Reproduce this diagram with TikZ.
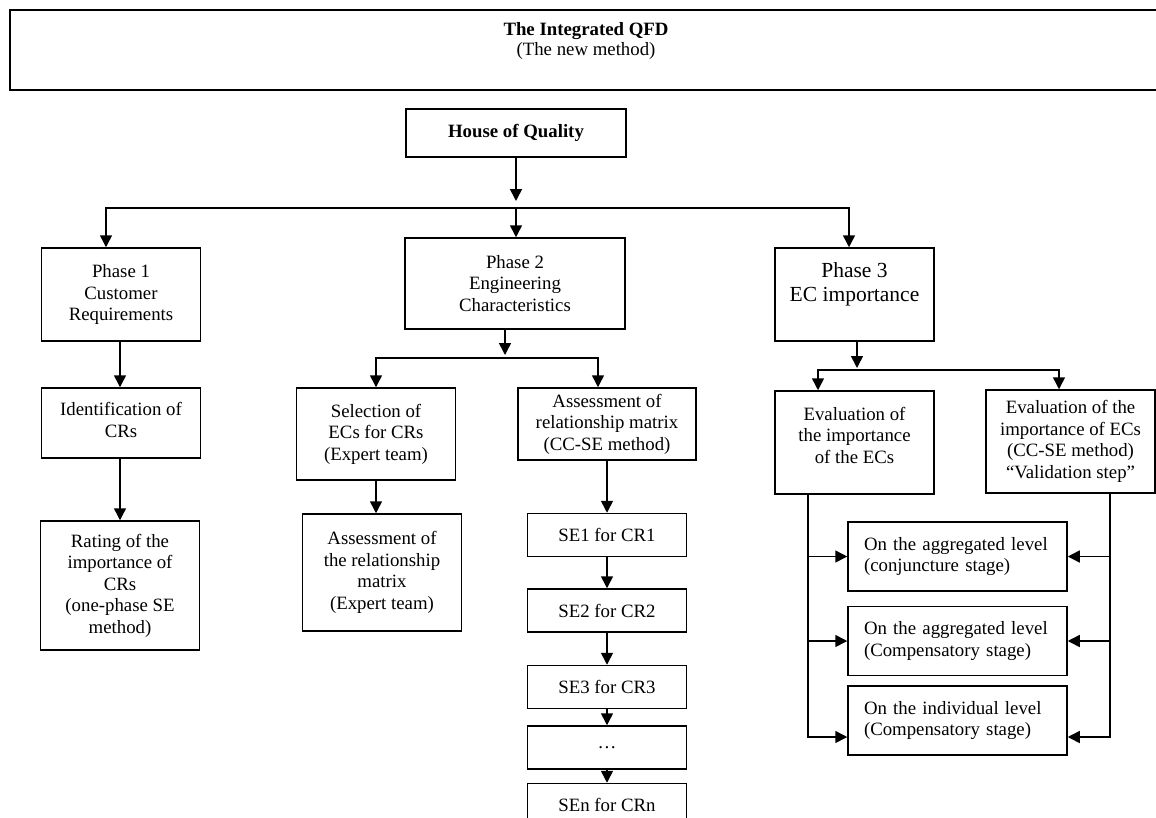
\documentclass[tikz,border=0pt]{standalone}
\usepackage{fontspec}
\setmainfont{Liberation Serif}
\usetikzlibrary{positioning,arrows.meta}

\begin{document}
\begin{tikzpicture}[x=1pt, y=-1pt,
  boxnode/.style={rectangle, draw=black!100, line width=1.5pt, align=center, inner sep=2pt, font=\fontsize{18.8}{21.5}\selectfont},
  senode/.style={boxnode, minimum width=159pt, minimum height=43pt},
  levelnode/.style={boxnode, align=left, minimum width=219pt, minimum height=69pt, text width=187pt, inner xsep=16pt},
  arrowline/.style={-{Triangle[length=12pt,width=12pt]}, line width=1.5pt}]

\useasboundingbox (0,0) rectangle (1156,817);
\clip (0,0) rectangle (1156,817);

%Nodes
\node[boxnode, minimum width=1152pt, minimum height=80pt] (qfd) at (586,50) {};
\node[align=center, font=\fontsize{18.8}{20}\selectfont] (qfdtext) at (586,41) {\textbf{The Integrated QFD}\\(The new method)};
\node[boxnode, minimum width=220pt, minimum height=48pt] (hoq) at (516,133) {\textbf{House of Quality}};

\node[boxnode, minimum width=159pt, minimum height=93pt] (phase1) at (121,294.5) {Phase 1\\Customer\\Requirements};
\node[boxnode, minimum width=220pt, minimum height=91pt] (phase2) at (515,283.5) {Phase 2\\Engineering\\Characteristics};
\node[boxnode, minimum width=159pt, minimum height=93pt, font=\fontsize{21.5}{24}\selectfont] (phase3) at (854.5,294.5) {Phase 3\\EC importance\\\mbox{}};

\node[boxnode, minimum width=159pt, minimum height=70pt] (identcr) at (121,423) {Identification of\\CRs\\[-15pt]\mbox{}};
\node[boxnode, minimum width=159pt, minimum height=129pt] (ratecr) at (120,585.5) {Rating of the\\importance of\\CRs\\(one-phase SE\\method)};

\node[boxnode, minimum width=159pt, minimum height=92pt] (selec) at (376,434) {Selection of\\ECs for CRs\\(Expert team)};
\node[boxnode, minimum width=159pt, minimum height=117pt] (assexpert) at (382,572.5) {Assessment of\\the relationship\\matrix\\(Expert team)};
\node[boxnode, minimum width=178pt, minimum height=72pt] (asscc) at (607,424) {Assessment of\\relationship matrix\\(CC-SE method)};
\node[senode] (se1) at (607,535) {SE1 for CR1};
\node[senode] (se2) [below=31pt of se1] {SE2 for CR2};
\node[senode] (se3) [below=32pt of se2] {SE3 for CR3};
\node[senode] (sedots) [below=16pt of se3] {…};
\node[senode] (sen) [below=13pt of sedots] {SEn for CRn};

\node[boxnode, minimum width=159pt, minimum height=103pt] (eval1) at (854.5,442.5) {Evaluation of\\the importance\\of the ECs\\[-6.5pt]\mbox{}};
\node[boxnode, minimum width=169pt, minimum height=103pt] (eval2) at (1070.5,441.5) {Evaluation of the\\importance of ECs\\(CC-SE method)\\“Validation step”};
\node[levelnode] (level1) at (957.5,556.5) {On the aggregated level\\(conjuncture stage)};
\node[levelnode] (level2) at (957.5,641) {On the aggregated level\\(Compensatory stage)};
\node[levelnode] (level3) at (957.5,720.5) {On the individual level\\(Compensatory stage)};

\coordinate (busA) at (516,208);
\coordinate (busB) at (505,358);
\coordinate (busC) at (857,370);

%line
\draw[arrowline, shorten >=7pt] (hoq.south) -- (busA);
\draw[arrowline] (busA) -| ([xshift=-15pt]phase1.north);
\draw[arrowline] (busA) -- (busA |- phase2.north);
\draw[arrowline] (busA) -| ([xshift=-5.5pt]phase3.north);

\draw[arrowline] ([xshift=-1pt]phase1.south) -- ([xshift=-1pt]identcr.north);
\draw[arrowline] ([xshift=-1pt]identcr.south) -- ([xshift=-1pt]identcr.south |- ratecr.north);

\draw[arrowline, shorten >=3pt] ([xshift=-10pt]phase2.south) -- (busB);
\draw[arrowline] (busB) -| (selec.north);
\draw[arrowline] (busB) -| ([xshift=-9pt]asscc.north);
\draw[arrowline] (selec.south) -- (selec.south |- assexpert.north);

\draw[arrowline] (asscc.south) -- (asscc.south |- se1.north);
\draw[arrowline] (se1.south) -- (se2.north);
\draw[arrowline] (se2.south) -- (se3.north);
\draw[arrowline] (se3.south) -- (sedots.north);
\draw[arrowline] (sedots.south) -- (sen.north);

\draw[arrowline, shorten >=2pt] ([xshift=2.5pt]phase3.south) -- (busC);
\draw[arrowline] (busC) -| ([xshift=-36.5pt]eval1.north);
\draw[arrowline] (busC) -| ([xshift=-11.5pt]eval2.north);

\draw[arrowline] ([xshift=-46.5pt]eval1.south) |- (level1.west);
\draw[arrowline] ([xshift=-46.5pt]eval1.south) |- (level2.west);
\draw[arrowline] ([xshift=-46.5pt]eval1.south) |- ([yshift=-16.5pt]level3.west);

\draw[arrowline] ([xshift=39.5pt]eval2.south) |- (level1.east);
\draw[arrowline] ([xshift=39.5pt]eval2.south) |- (level2.east);
\draw[arrowline] ([xshift=39.5pt]eval2.south) |- ([yshift=-16.5pt]level3.east);

\end{tikzpicture}
\end{document}
